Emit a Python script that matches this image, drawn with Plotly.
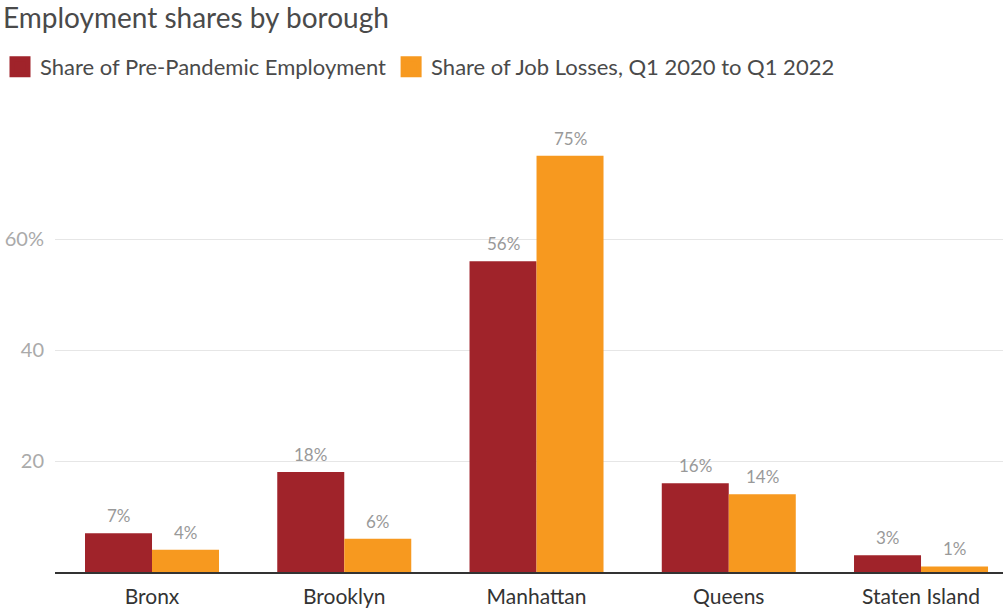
import plotly.graph_objects as go

boroughs = ["Bronx", "Brooklyn", "Manhattan", "Queens", "Staten Island"]
pre_pandemic_share = [7, 18, 56, 16, 3]
job_loss_share = [4, 6, 75, 14, 1]

series_names = ["Share of Pre-Pandemic Employment", "Share of Job Losses, Q1 2020 to Q1 2022"]
series_colors = ["#A0232A", "#F7991F"]
series_values = [pre_pandemic_share, job_loss_share]

y_tick_vals = [20, 40, 60]
y_tick_text = ["20", "40", "60%"]

FONT = "Lato, 'Open Sans', sans-serif"
BAR_HALF_PX = 33.5  # half of one bar's drawn width, for centring value labels

fig = go.Figure()
for name, vals, color in zip(series_names, series_values, series_colors):
    fig.add_trace(go.Bar(
        x=boroughs, y=vals, name=name,
        marker=dict(color=color, line=dict(width=0)),
        showlegend=False,
    ))
    # square legend swatches
    fig.add_trace(go.Scatter(
        x=[None], y=[None], mode="markers", name=name,
        marker=dict(symbol="square", size=16, color=color, line=dict(width=6, color=color)),
    ))

# value labels above each bar
annotations = []
for side, vals in zip([-1, 1], series_values):
    for cat, v in zip(boroughs, vals):
        annotations.append(dict(
            x=cat, y=v, xref="x", yref="y", text=f"{v}%", showarrow=False,
            xanchor="center", yanchor="bottom", xshift=side * BAR_HALF_PX, yshift=5,
            font=dict(size=17, color="#999999", family=FONT),
        ))

fig.update_layout(
    width=1003, height=609,
    margin=dict(l=55, r=0, t=128, b=37),
    paper_bgcolor="white", plot_bgcolor="white",
    barmode="group", bargap=0.303, bargroupgap=0,
    font=dict(family=FONT, color="#444444"),
    annotations=annotations,
    title=dict(text="Employment shares by borough", x=0.003, xref="container", xanchor="left",
               y=1 - 18 / 609, yref="container", yanchor="middle",
               font=dict(size=28, color="#4a4a4a", family=FONT)),
    legend=dict(orientation="h", x=-0.007, xref="container", xanchor="left",
                y=1 - 67 / 609, yref="container", yanchor="middle",
                font=dict(size=22, color="#4a4a4a", family=FONT),
                itemwidth=30, tracegroupgap=0, bgcolor="rgba(0,0,0,0)"),
    xaxis=dict(range=[-0.5046, 4.4264], showline=True, linecolor="#333333", linewidth=1.5, ticks="",
               tickfont=dict(size=21, color="#333333", family=FONT), showgrid=False,
               ticklabelstandoff=5),
    yaxis=dict(range=[0, 80], tickvals=y_tick_vals, ticktext=y_tick_text,
               showgrid=True, gridcolor="#e6e6e6", gridwidth=1, zeroline=False,
               tickfont=dict(size=20, color="#aaaaaa", family=FONT), ticks="",
               ticklabelstandoff=10),
)

fig.write_html("out.html")
